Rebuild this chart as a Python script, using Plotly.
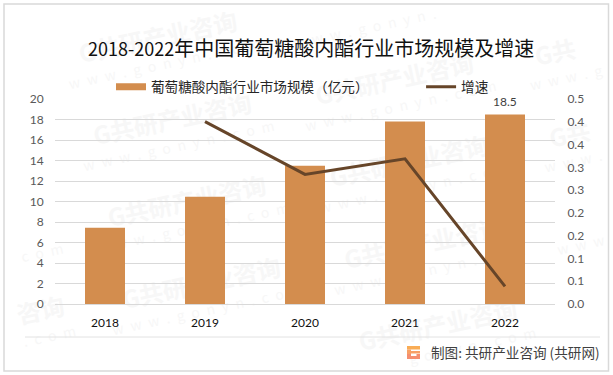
import math
import plotly.graph_objects as go

years = ["2018", "2019", "2020", "2021", "2022"]
market_size = [7.44, 10.47, 13.5, 17.8, 18.5]
growth = [None, 0.445, 0.316, 0.354, 0.043]
left_ticks = [0, 2, 4, 6, 8, 10, 12, 14, 16, 18, 20]
right_tick_text = ["0.0", "0.1", "0.1", "0.2", "0.2", "0.3", "0.3", "0.4", "0.4", "0.5"]
right_tick_vals = [0.5 * i / 9 for i in range(10)]
bar_name = "葡萄糖酸内酯行业市场规模（亿元）"
line_name = "增速"

W, H = 613, 375
L, R, T, B = 55, 58, 99, 71
CJK = "Noto Sans CJK SC"
NUM = "Lato"
BAR = "#D38D4E"


def px(x):
    return (x - L) / (W - L - R)


def py(y):
    return 1 - (y - T) / (H - T - B)


fig = go.Figure()
fig.add_trace(go.Bar(
    x=years, y=market_size, name=bar_name, showlegend=False,
    marker=dict(color=BAR, line_width=0), width=0.4,
))
# legend key of the bars: a wide flat swatch, as in the reference
fig.add_trace(go.Scatter(
    x=years, y=[None] * len(years), name=bar_name + "\u3000\u3000\u3000\u3000", mode="lines",
    line=dict(color=BAR, width=7), hoverinfo="skip",
))
fig.add_trace(go.Scatter(
    x=years, y=growth, name=line_name, yaxis="y2", mode="lines",
    line=dict(color="#664529", width=3), connectgaps=False,
))

shapes = []
annotations = []
ANGLE = 12
cosa, sina = math.cos(math.radians(ANGLE)), math.sin(math.radians(ANGLE))


def tilted_text(cx, cy, chars, step, size, color, weight, sep, min_keep):
    """Watermark text along a tilted baseline, keeping only glyphs inside the frame."""
    n = len(chars)
    kept = []
    for k, ch in enumerate(chars):
        t = (k - (n - 1) / 2) * step
        x, y = cx + t * cosa, cy - t * sina
        if 8 + step / 2 <= x <= 604 - step / 2 and 6 + size / 2 <= y <= 369 - size / 2:
            kept.append((k, x, y))
    if len(kept) < min_keep:
        return
    first, last = kept[0], kept[-1]
    mx, my = (first[1] + last[1]) / 2, (first[2] + last[2]) / 2
    text = sep.join(chars[first[0]:last[0] + 1])
    shapes.append(dict(
        type="rect", xref="paper", yref="paper", layer="below",
        x0=px(mx - 1), x1=px(mx + 1), y0=py(my + 1), y1=py(my - 1),
        line=dict(width=0), fillcolor="rgba(0,0,0,0)",
        label=dict(text=text, textangle=-ANGLE, textposition="middle center",
                   font=dict(family=CJK, size=size, color=color, weight=weight)),
    ))


for i in range(-1, 3):
    for j in range(-1, 4):
        cx = 173 + i * 222 + j * 14.5
        cy = 122 + i * -40 + j * 82
        tilted_text(cx, cy, list("G共研产业咨询"), 25, 24, "#F7F7F7", "bold", "", 2)
        tilted_text(cx + 6, cy + 25, list("www.gonyn.com"), 14.5, 14, "#F7F7F7", "normal", "\u2002", 3)

# outer frame
shapes.append(dict(type="rect", xref="paper", yref="paper",
                   x0=px(4), x1=px(608.5), y0=py(371), y1=py(4),
                   line=dict(color="#D9D9D9", width=1.5), layer="below"))
# footer rule
shapes.append(dict(type="line", xref="paper", yref="paper",
                   x0=px(25), x1=px(600), y0=py(337), y1=py(337),
                   line=dict(color="#E2E2E2", width=1)))


def logo_rect(x0, x1, y0, y1, color):
    shapes.append(dict(type="rect", xref="paper", yref="paper",
                       x0=px(x0), x1=px(x1), y0=py(y1), y1=py(y0),
                       fillcolor=color, line_width=0))


logo_rect(407, 420, 346, 349.5, "#F9AC55")
logo_rect(407, 411, 349.5, 354, "#F8A066")
logo_rect(407, 420, 354, 359, "#F58F70")
logo_rect(411, 420, 351, 353.5, "#F8A066")
logo_rect(411, 416.5, 354, 356, "#FFFFFF")

annotations.append(dict(
    xref="paper", yref="paper", x=px(311), y=py(47), xanchor="center", yanchor="middle",
    text='<span style="font-size:18px">2018-2022</span>年中国葡萄糖酸内酯行业市场规模及增速',
    showarrow=False, font=dict(family=CJK, size=20, color="#111111"),
))
annotations.append(dict(
    xref="paper", yref="paper", x=px(429), y=py(352), xanchor="left", yanchor="middle",
    text="制图: 共研产业咨询 (共研网)", showarrow=False,
    font=dict(family=CJK, size=13.6, color="#404040"),
))
annotations.append(dict(
    xref="x", yref="y", x=4, y=market_size[-1], yanchor="bottom", yshift=3,
    text=f"{market_size[-1]}", showarrow=False,
    font=dict(family=NUM, size=12, color="#404040"),
))

fig.update_layout(
    width=W, height=H, autosize=False,
    margin=dict(l=L, r=R, t=T, b=B, pad=0),
    paper_bgcolor="white", plot_bgcolor="rgba(0,0,0,0)",
    showlegend=True,
    legend=dict(orientation="h", xref="paper", yref="paper",
                x=px(111), y=py(87), xanchor="left", yanchor="middle",
                bgcolor="rgba(0,0,0,0)", itemwidth=30,
                font=dict(family=CJK, size=13.6, color="#262626"),
                traceorder="normal"),
    xaxis=dict(type="category", categoryorder="array", categoryarray=years,
               range=[-0.5, 4.5],
               showgrid=False, showline=True, linecolor="#D9D9D9", linewidth=1,
               ticks="outside", ticklen=8, tickcolor="rgba(0,0,0,0)",
               tickfont=dict(family=NUM, size=12, color="#111111")),
    yaxis=dict(range=[0, 20], tickvals=left_ticks, showgrid=True,
               gridcolor="#D9D9D9", gridwidth=1, zeroline=False, showline=False,
               ticks="outside", ticklen=8, tickcolor="rgba(0,0,0,0)",
               tickfont=dict(family=NUM, size=12, color="#595959")),
    yaxis2=dict(range=[0, 0.5], overlaying="y", side="right",
                tickvals=right_tick_vals, ticktext=right_tick_text,
                showgrid=False, zeroline=False, showline=False,
                ticks="outside", ticklen=9, tickcolor="rgba(0,0,0,0)",
                tickfont=dict(family=NUM, size=12, color="#595959")),
    shapes=shapes, annotations=annotations, bargap=0.6,
)

fig.write_html("out.html", config=dict(displayModeBar=False),
               post_script="document.body.style.margin='0';document.body.style.overflow='hidden';")
